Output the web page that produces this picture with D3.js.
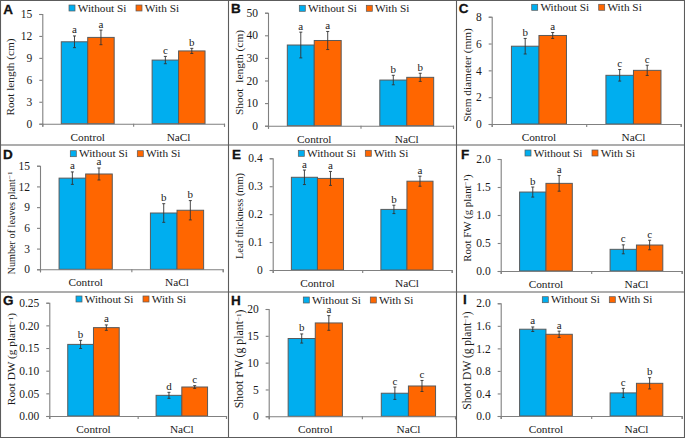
<!DOCTYPE html>
<html>
<head>
<meta charset="utf-8">
<script src="https://cdnjs.cloudflare.com/ajax/libs/d3/7.8.5/d3.min.js"></script>
<style>
    html, body { margin: 0; padding: 0; background: #fff; }
    svg { display: block; }
    text { font-family: "Liberation Serif", serif; fill: #1a1a1a; white-space: pre; }
    .panelLetter { font-family: "Liberation Sans", sans-serif; font-weight: bold; font-size: 13.5px; fill: #111; stroke: #111; stroke-width: 0.3; }
</style>
</head>
<body>
<svg id="chart" width="685" height="438"></svg>
<script>
"use strict";

// Data, one entry per panel (A to I), each pair is [Control, NaCl]
const panelLetters = ["A", "B", "C", "D", "E", "F", "G", "H", "I"];
const categories = ["Control", "NaCl"];
const seriesNames = ["Without Si", "With Si"];
const yTitles = [
    "Root length (cm)", "Shoot  length (cm)", "Stem diameter (mm)",
    "Number of leaves plant^−1", "Leaf thickness (mm)", "Root FW (g plant^−1^)",
    "Root DW (g plant^−1^)", "Shoot FW (g plant^−1^)", "Shoot DW (g plant^−1^)"
];
const yTicks = [
    ["0", "3", "6", "9", "12", "15"],
    ["0", "10", "20", "30", "40", "50"],
    ["0", "2", "4", "6", "8"],
    ["0", "3", "6", "9", "12", "15"],
    ["0", "0.1", "0.2", "0.3", "0.4"],
    ["0.0", "0.5", "1.0", "1.5", "2.0"],
    ["0.00", "0.05", "0.10", "0.15", "0.20", "0.25"],
    ["0", "5", "10", "15", "20"],
    ["0.0", "0.4", "0.8", "1.2", "1.6", "2.0"]
];
const withoutSi = [
    [11.2, 8.7], [35.7, 20.2], [5.8, 3.63],
    [13.2, 8.15], [0.332, 0.217], [1.41, 0.387],
    [0.158, 0.0456], [14.5, 4.3], [1.54, 0.41]
];
const withSi = [
    [11.8, 9.95], [37.7, 21.4], [6.6, 4.0],
    [13.8, 8.55], [0.328, 0.318], [1.565, 0.464],
    [0.195, 0.064], [17.4, 5.65], [1.45, 0.58]
];
const withoutSiErr = [
    [0.8, 0.5], [5.7, 2.1], [0.58, 0.43],
    [0.9, 1.35], [0.026, 0.015], [0.09, 0.08],
    [0.009, 0.0066], [0.85, 1.15], [0.04, 0.08]
];
const withSiErr = [
    [1.0, 0.35], [4.0, 1.8], [0.22, 0.38],
    [0.87, 1.4], [0.025, 0.018], [0.14, 0.085],
    [0.006, 0.003], [1.37, 1.03], [0.056, 0.1]
];
const withoutSiLetters = [
    ["a", "c"], ["a", "b"], ["b", "c"],
    ["a", "b"], ["a", "b"], ["b", "c"],
    ["b", "d"], ["b", "c"], ["a", "c"]
];
const withSiLetters = [
    ["a", "b"], ["a", "b"], ["a", "c"],
    ["a", "b"], ["a", "a"], ["a", "c"],
    ["a", "c"], ["a", "c"], ["a", "b"]
];

// Layout of each panel
const layout = [
    { left: 42.3, right: 224, top: 14, bottom: 123.7, titleX: 10, titleY: 77, titleSize: 11.3, legendX: 69, legendY: 8, letterX: 3.3, letterY: 13.5 },
    { left: 268, right: 453, top: 12.7, bottom: 125.7, titleX: 239, titleY: 72.5, titleSize: 11.4, legendX: 299.3, legendY: 8.3, letterX: 231, letterY: 12.7 },
    { left: 491.7, right: 680.7, top: 16.7, bottom: 124, titleX: 466.7, titleY: 75, titleSize: 11.3, legendX: 531.7, legendY: 7.3, letterX: 458.7, letterY: 13.3 },
    { left: 40, right: 222.7, top: 165.7, bottom: 269.3, titleX: 11, titleY: 223, titleSize: 10.2, legendX: 70.3, legendY: 153.7, letterX: 3, letterY: 159 },
    { left: 272.7, right: 451.7, top: 158.3, bottom: 270, titleX: 239, titleY: 216, titleSize: 10.4, legendX: 298.3, legendY: 153.3, letterX: 232, letterY: 159 },
    { left: 500.7, right: 681.7, top: 159, bottom: 271, titleX: 466.7, titleY: 218, titleSize: 10.9, legendX: 525, legendY: 153, letterX: 461, letterY: 159 },
    { left: 49.3, right: 226, top: 302.7, bottom: 416, titleX: 11, titleY: 359, titleSize: 11.3, legendX: 76, legendY: 299, letterX: 3, letterY: 304.7 },
    { left: 268.7, right: 455, top: 309, bottom: 416.3, titleX: 239, titleY: 359, titleSize: 11.8, legendX: 303.3, legendY: 300, letterX: 231, letterY: 304.7 },
    { left: 500.7, right: 681.7, top: 303.3, bottom: 416, titleX: 466.7, titleY: 360.5, titleSize: 11.5, legendX: 542.3, legendY: 299.7, letterX: 463, letterY: 304 }
];

const colors = ["#00aeef", "#ff6600"];
const svg = d3.select("#chart");

svg.append("rect").attr("width", 685).attr("height", 438).attr("fill", "#fff");

/**
 * One small bar chart with its axes, whiskers, letters and legend.
 */
function drawPanel(i) {
    const box = layout[i];
    const g = svg.append("g").attr("class", "panel");
    const ticks = yTicks[i];
    const yMax = +ticks[ticks.length - 1];

    const y = d3.scaleLinear().domain([0, yMax]).range([box.bottom, box.top]);
    const x = d3.scaleBand().domain(categories).range([box.left, box.right]);
    const xSeries = d3.scaleBand().domain(seriesNames).range([0, x.bandwidth()]).paddingOuter(0.717);
    const xEdges = d3.scaleLinear().domain([0, 2]).range([box.left, box.right]);

    // Flatten the arrays into one record per bar
    const bars = [];
    categories.forEach((c, k) => {
        bars.push({ cat: c, s: 0, value: withoutSi[i][k], err: withoutSiErr[i][k], letter: withoutSiLetters[i][k] });
        bars.push({ cat: c, s: 1, value: withSi[i][k], err: withSiErr[i][k], letter: withSiLetters[i][k] });
    });
    const barX = d => x(d.cat) + xSeries(seriesNames[d.s]);
    const barMid = d => barX(d) + xSeries.bandwidth() / 2;

    g.selectAll("rect.bar")
        .data(bars)
        .enter().append("rect")
            .attr("class", "bar")
            .attr("x", barX)
            .attr("y", d => y(d.value))
            .attr("width", xSeries.bandwidth())
            .attr("height", d => y(0) - y(d.value))
            .attr("fill", d => colors[d.s])
            .attr("stroke", "#5a5a5a")
            .attr("stroke-width", 1);

    // Axes
    const yAxis = d3.axisLeft(y)
        .tickValues(ticks.map(Number))
        .tickFormat((d, n) => ticks[n])
        .tickSizeOuter(0)
        .tickSize(3);
    const xAxis = d3.axisBottom(xEdges)
        .tickValues([0, 1, 2])
        .tickFormat("")
        .tickSizeOuter(0)
        .tickSize(3);

    const yG = g.append("g").attr("transform", `translate(${box.left}, 0)`).call(yAxis);
    const xG = g.append("g").attr("transform", `translate(0, ${box.bottom})`).call(xAxis);
    [yG, xG].forEach(a => {
        a.attr("font-family", null).attr("font-size", null);
        a.selectAll("path, line").attr("stroke", "#808080").attr("stroke-width", 1.1);
    });
    yG.selectAll("text")
        .attr("x", -10)
        .style("font-size", "11.5px");

    g.selectAll("text.cat")
        .data(categories)
        .enter().append("text")
            .attr("class", "cat")
            .attr("x", d => x(d) + x.bandwidth() / 2)
            .attr("y", box.bottom + 17)
            .attr("text-anchor", "middle")
            .style("font-size", "11.3px")
            .text(d => d);

    // Whiskers
    const whisker = g.selectAll("g.err").data(bars).enter().append("g").attr("class", "err");
    whisker.append("line")
        .attr("x1", barMid).attr("x2", barMid)
        .attr("y1", d => y(d.value - d.err)).attr("y2", d => y(d.value + d.err));
    whisker.append("line")
        .attr("x1", d => barMid(d) - 1.5).attr("x2", d => barMid(d) + 1.5)
        .attr("y1", d => y(d.value + d.err)).attr("y2", d => y(d.value + d.err));
    whisker.append("line")
        .attr("x1", d => barMid(d) - 1.5).attr("x2", d => barMid(d) + 1.5)
        .attr("y1", d => y(d.value - d.err)).attr("y2", d => y(d.value - d.err));
    whisker.selectAll("line").attr("stroke", "#333").attr("stroke-width", 0.9);

    // Significance letters
    g.selectAll("text.sig")
        .data(bars)
        .enter().append("text")
            .attr("class", "sig")
            .attr("x", barMid)
            .attr("y", d => y(d.value + d.err) - 2.5)
            .attr("text-anchor", "middle")
            .style("font-size", "11px")
            .text(d => d.letter);

    // Y title, "^" marks the start and end of a superscript
    const title = g.append("text")
        .attr("transform", `translate(${box.titleX}, ${box.titleY}) rotate(-90)`)
        .attr("text-anchor", "middle")
        .attr("dy", "0.35em")
        .style("font-size", box.titleSize + "px");
    yTitles[i].split("^").forEach((part, n) => {
        title.append("tspan")
            .attr("dy", n === 0 ? null : (n === 1 ? "-0.35em" : "0.25em"))
            .style("font-size", n === 1 ? "7px" : null)
            .text(part);
    });

    // Legend
    seriesNames.forEach((name, s) => {
        const lx = box.legendX + s * 67;
        g.append("rect")
            .attr("x", lx).attr("y", box.legendY - 3)
            .attr("width", 6).attr("height", 6)
            .attr("fill", colors[s])
            .attr("stroke", "#5a5a5a")
            .attr("stroke-width", 0.7);
        g.append("text")
            .attr("x", lx + 8.7).attr("y", box.legendY + 3.7)
            .style("font-size", "11.3px")
            .text(name);
    });

    g.append("text")
        .attr("class", "panelLetter")
        .attr("x", box.letterX).attr("y", box.letterY)
        .text(panelLetters[i]);
}

panelLetters.forEach((d, i) => drawPanel(i));

// Panel frames
const frameColor = "#5c5c5c";
[0.5, 228.5, 456.5, 684.5].forEach(fx => {
    svg.append("line").attr("x1", fx).attr("x2", fx).attr("y1", 0).attr("y2", 438)
        .attr("stroke", frameColor).attr("stroke-width", 1.1);
});
[0.5, 145, 292, 437.5].forEach(fy => {
    svg.append("line").attr("x1", 0).attr("x2", 685).attr("y1", fy).attr("y2", fy)
        .attr("stroke", frameColor).attr("stroke-width", 1.1);
});
</script>
</body>
</html>
